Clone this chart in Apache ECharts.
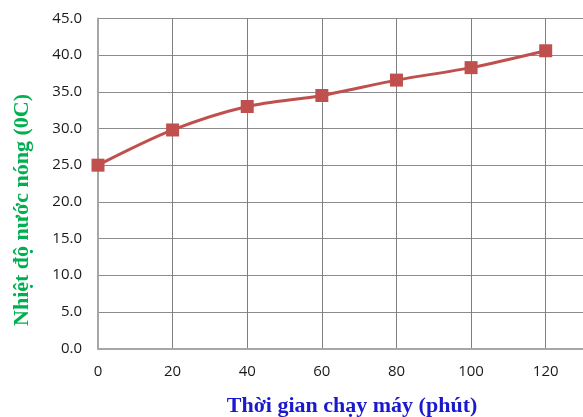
<!DOCTYPE html>
<html>
<head>
<meta charset="utf-8">
<script src="https://cdn.jsdelivr.net/npm/echarts@6/dist/echarts.min.js"></script>
<style>
  html, body { margin: 0; padding: 0; background: #ffffff; }
  #chart { width: 583px; height: 417px; }
</style>
</head>
<body>
<div id="chart"></div>
<script>
// Running time (minutes) and hot-water temperature (°C)
const minutes = [0, 20, 40, 60, 80, 100, 120];
const temperature = [25.0, 29.8, 33.0, 34.5, 36.6, 38.3, 40.6];
const xTitle = 'Thời gian chạy máy (phút)';
const yTitle = 'Nhiệt độ nước nóng (0C)';

const points = minutes.map((m, i) => [m, temperature[i]]);

const chart = echarts.init(document.getElementById('chart'), null, { renderer: 'canvas' });

const tickFont = { fontFamily: 'Open Sans, Liberation Sans, sans-serif', fontSize: 15, color: '#1a1a1a' };

chart.setOption({
  animation: false,
  backgroundColor: '#ffffff',
  grid: { left: 98, right: 0, top: 18.5, bottom: 68.5, containLabel: false },
  xAxis: {
    type: 'value',
    min: 0,
    max: 130,
    interval: 20,
    axisLine: { show: true, lineStyle: { color: '#a6a6a6', width: 2 } },
    axisTick: { show: false },
    axisLabel: Object.assign({ margin: 16, showMaxLabel: false }, tickFont),
    splitLine: { show: true, lineStyle: { color: '#7f7f7f', width: 1 } }
  },
  yAxis: {
    type: 'value',
    min: 0,
    max: 45,
    interval: 5,
    axisLine: { show: true, lineStyle: { color: '#a6a6a6', width: 2 } },
    axisTick: { show: false },
    axisLabel: Object.assign({ margin: 16, formatter: v => v.toFixed(1) }, tickFont),
    splitLine: { show: true, lineStyle: { color: '#8c8c8c', width: 1 } }
  },
  graphic: [
    {
      type: 'text',
      x: 352, y: 406,
      style: {
        text: xTitle,
        fill: '#1a1acc',
        font: 'bold 22px "Liberation Serif", "DejaVu Serif", serif',
        textAlign: 'center',
        textVerticalAlign: 'middle'
      }
    },
    {
      type: 'text',
      x: 22, y: 210,
      rotation: Math.PI / 2,
      style: {
        text: yTitle,
        fill: '#00b050',
        font: 'bold 22px "Liberation Serif", "DejaVu Serif", serif',
        textAlign: 'center',
        textVerticalAlign: 'middle'
      }
    }
  ],
  series: [{
    type: 'line',
    data: points,
    smooth: 0.3,
    symbol: 'rect',
    symbolSize: 13,
    lineStyle: { color: '#c0504d', width: 3 },
    itemStyle: { color: '#c0504d' }
  }]
});
</script>
</body>
</html>
